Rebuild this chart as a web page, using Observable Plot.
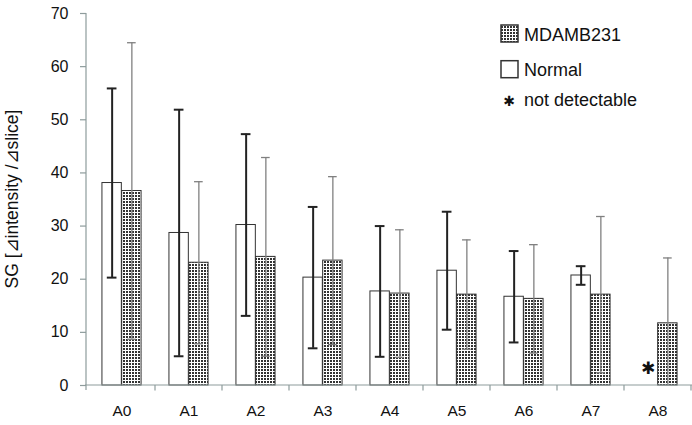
<!DOCTYPE html>
<html>
<head>
<meta charset="utf-8">
<script src="https://cdn.jsdelivr.net/npm/d3@7"></script>
<script src="https://cdn.jsdelivr.net/npm/@observablehq/plot@0.6"></script>
<style>
  body { margin: 0; background: #fff; font-family: "Liberation Sans", Arial, sans-serif; }
  #wrap { position: relative; width: 692px; height: 425px; }
  #legend { position: absolute; left: 495px; top: 20px; }
</style>
</head>
<body>
<div id="wrap">
  <svg id="legend" width="190" height="95" font-family="'Liberation Sans', Arial, sans-serif">
    <defs>
      <pattern id="dotsL" width="3" height="3" patternUnits="userSpaceOnUse">
        <rect width="3" height="3" fill="#fff"></rect>
        <rect width="2" height="2" fill="#333"></rect>
      </pattern>
    </defs>
  </svg>
</div>
<script>
const categories = ["A0", "A1", "A2", "A3", "A4", "A5", "A6", "A7", "A8"];
const seriesNames = ["MDAMB231", "Normal"];
const normalMean = [38.1, 28.7, 30.2, 20.3, 17.7, 21.6, 16.7, 20.7, null];
const normalSD   = [17.8, 23.2, 17.1, 13.3, 12.3, 11.1, 8.6, 1.75, null];
const mdaMean    = [36.6, 23.1, 24.2, 23.5, 17.3, 17.1, 16.3, 17.1, 11.7];
const mdaSD      = [27.9, 15.25, 18.7, 15.8, 12.0, 10.3, 10.2, 14.7, 12.3];
const yTicks = [0, 10, 20, 30, 40, 50, 60, 70];
const notDetectable = ["A8"];
const yLabel = "SG [\u22BFintensity /\u22BFslice]";
const legendMarkerText = "not detectable";

const W = 692, H = 425, mL = 86, mR = 0, mT = 13, mB = 40;
const bw = (W - mL - mR) / categories.length;
const barW = bw * 0.293;
const capN = 10, capM = 9;

const rows = (means, sds, series) => categories.map((c, i) => ({
  category: c, series, mean: means[i], sd: sds[i],
  lo: means[i] == null ? null : Math.max(0, means[i] - sds[i]),
  hi: means[i] == null ? null : means[i] + sds[i]
})).filter(d => d.mean != null);

const normal = rows(normalMean, normalSD, "Normal");
const mda = rows(mdaMean, mdaSD, "MDAMB231");

const axisColor = "#8e9c9c";
const fontFamily = "'Liberation Sans', Arial, sans-serif";

function axisLines(index, scales, values, dim) {
  const g = d3.create("svg:g").attr("stroke", axisColor).attr("stroke-width", 1.2).attr("fill", "none");
  const x0 = dim.marginLeft, x1 = dim.width - dim.marginRight;
  const yb = scales.y(0), yt = scales.y(yTicks[yTicks.length - 1]);
  g.append("line").attr("x1", x0 - 1).attr("x2", x1).attr("y1", yb).attr("y2", yb);
  g.append("line").attr("x1", x0).attr("x2", x0).attr("y1", yt).attr("y2", yb + 5);
  const edges = categories.map(c => scales.x(c)).concat([scales.x(categories[categories.length - 1]) + scales.x.bandwidth()]);
  edges.slice(1).forEach(e => g.append("line").attr("x1", e).attr("x2", e).attr("y1", yb).attr("y2", yb + 5.5));
  return g.node();
}

const plot = Plot.plot({
  width: W, height: H,
  marginLeft: mL, marginRight: mR, marginTop: mT, marginBottom: mB,
  style: { fontFamily, fontSize: "16px", color: "#111", background: "transparent", overflow: "visible" },
  x: { domain: categories, padding: 0, label: null },
  y: { domain: [0, 70], label: null },
  marks: [
    Plot.axisY({ ticks: yTicks, tickSize: 6, tickPadding: 12, stroke: axisColor, fontSize: 16, label: null, tickFormat: d => d, strokeWidth: 1.2 }),
    Plot.axisX({ tickSize: 0, tickPadding: 19, fontSize: 15.5, label: null }),
    Plot.barY(normal, { x: "category", y: "mean", fill: "#fff", stroke: "#333", strokeWidth: 1,
      insetLeft: bw / 2 - barW, insetRight: bw / 2 }),
    Plot.barY(mda, { x: "category", y: "mean", fill: "url(#dots)", stroke: "#333", strokeWidth: 1,
      insetLeft: bw / 2, insetRight: bw / 2 - barW }),
    // Normal error bars
    Plot.ruleX(normal, { x: "category", y1: "lo", y2: "hi", dx: -barW / 2, stroke: "#222", strokeWidth: 2 }),
    Plot.tickY(normal, { x: "category", y: "hi", stroke: "#222", strokeWidth: 2,
      insetLeft: bw / 2 - barW / 2 - capN / 2, insetRight: bw / 2 + barW / 2 - capN / 2 }),
    Plot.tickY(normal.filter(d => d.mean - d.sd > 0), { x: "category", y: "lo", stroke: "#222", strokeWidth: 2,
      insetLeft: bw / 2 - barW / 2 - capN / 2, insetRight: bw / 2 + barW / 2 - capN / 2 }),
    // MDAMB231 error bars
    Plot.ruleX(mda, { x: "category", y1: "lo", y2: "hi", dx: barW / 2, stroke: "#808080", strokeWidth: 1.3 }),
    Plot.tickY(mda, { x: "category", y: "hi", stroke: "#808080", strokeWidth: 1.3,
      insetLeft: bw / 2 + barW / 2 - capM / 2, insetRight: bw / 2 - barW / 2 - capM / 2 }),
    Plot.tickY(mda.filter(d => d.mean - d.sd > 0), { x: "category", y: "lo", stroke: "#808080", strokeWidth: 1.3,
      insetLeft: bw / 2 + barW / 2 - capM / 2, insetRight: bw / 2 - barW / 2 - capM / 2 }),
    Plot.text(notDetectable, { x: d => d, y: () => 0, dx: -barW / 2, dy: -17, text: () => "\u2731",
      fontSize: 17, fill: "#111", fontFamily: "DejaVu Sans" }),
    axisLines
  ]
});

// stipple pattern for MDAMB231 bars
const svg = d3.select(plot);
const defs = svg.insert("defs", ":first-child");
const pat = defs.append("pattern").attr("id", "dots").attr("width", 3).attr("height", 3).attr("patternUnits", "userSpaceOnUse");
pat.append("rect").attr("width", 3).attr("height", 3).attr("fill", "#fff");
pat.append("rect").attr("width", 2).attr("height", 2).attr("fill", "#333");

// y-axis label
svg.append("text")
  .attr("transform", `translate(12,${(mT + (H - mB)) / 2}) rotate(-90)`)
  .attr("text-anchor", "middle").attr("dominant-baseline", "central")
  .attr("font-size", 17.5).attr("fill", "#111").attr("font-family", fontFamily)
  .text(yLabel);

const wrap = document.getElementById("wrap");
wrap.insertBefore(plot, wrap.firstChild);

// legend
const lg = d3.select("#legend");
const items = [
  { name: seriesNames[0], fill: "url(#dotsL)" },
  { name: seriesNames[1], fill: "#fff" }
];
items.forEach((it, i) => {
  const y0 = 5 + i * 35.7;
  lg.append("rect").attr("x", 6).attr("y", y0).attr("width", 17).attr("height", 17)
    .attr("fill", it.fill).attr("stroke", "#333").attr("stroke-width", 1.5);
  lg.append("text").attr("x", 29).attr("y", y0 + 15.5).attr("font-size", 18).attr("fill", "#111").text(it.name);
});
lg.append("text").attr("x", 14).attr("y", 81).attr("text-anchor", "middle").attr("dominant-baseline", "central")
  .attr("font-size", 14).attr("font-family", "DejaVu Sans").attr("fill", "#111").text("\u2731");
lg.append("text").attr("x", 29).attr("y", 86).attr("font-size", 18).attr("fill", "#111").text(legendMarkerText);
</script>
</body>
</html>
